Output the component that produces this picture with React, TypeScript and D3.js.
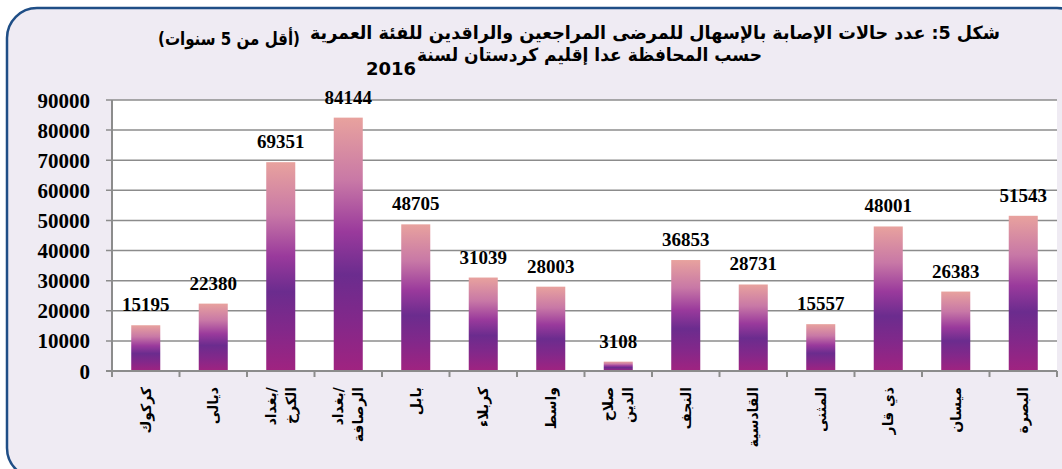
import React from "react";
import * as d3 from "d3";

const categories: string[] = [
  "كركوك",
  "ديالى",
  "بغداد/\nالكرخ",
  "بغداد/\nالرصافة",
  "بابل",
  "كربلاء",
  "واسط",
  "صلاح\nالدين",
  "النجف",
  "القادسية",
  "المثنى",
  "ذي قار",
  "ميسان",
  "البصرة",
];
const values: number[] = [15195, 22380, 69351, 84144, 48705, 31039, 28003, 3108, 36853, 28731, 15557, 48001, 26383, 51543];
const yTicks: number[] = [0, 10000, 20000, 30000, 40000, 50000, 60000, 70000, 80000, 90000];
const titleLine1Main = "شكل 5: عدد حالات الإصابة بالإسهال للمرضى المراجعين والراقدين للفئة العمرية";
const titleLine1Paren = "(أقل من 5 سنوات)";
const titleLine2 = "حسب المحافظة عدا إقليم كردستان لسنة";
const titleYear = "2016";

const W = 1062;
const H = 469;
const left = 112;
const right = 1057;
const top = 100;
const bottom = 371;

export default function App() {
  const x = d3
    .scaleBand<number>()
    .domain(categories.map((_, i) => i))
    .range([left, right])
    .paddingInner(0.57)
    .paddingOuter(0.285);
  const step = x.step();
  const y = d3.scaleLinear().domain([0, 90000]).range([bottom, top]);

  const serif = "'Liberation Serif', 'Times New Roman', serif";
  const arabic = "'DejaVu Sans', 'Noto Sans', sans-serif";
  const rtl = { direction: "rtl" as const, unicodeBidi: "embed" as const };

  return (
    <svg width={W} height={H} style={{ position: "absolute", left: 0, top: 0 }}>
      <defs>
        <linearGradient id="barGrad" x1="0" y1="0" x2="0" y2="1">
          <stop offset="0%" stopColor="#e8a29e" />
          <stop offset="25%" stopColor="#c878a6" />
          <stop offset="45%" stopColor="#9a3a9c" />
          <stop offset="62%" stopColor="#6b2c8e" />
          <stop offset="80%" stopColor="#82288a" />
          <stop offset="100%" stopColor="#a02380" />
        </linearGradient>
      </defs>
      <rect x={0} y={0} width={W} height={H} fill="#ffffff" />
      <rect x={7} y={8} width={1080} height={470} rx={30} ry={30} fill="#efebf3" stroke="#1f4e86" strokeWidth={2.5} />
      <rect x={left} y={top} width={right - left} height={bottom - top} fill="#ffffff" />

      {yTicks.map((t) => (
        <line key={"g" + t} x1={left - 6} x2={right} y1={y(t)} y2={y(t)} stroke="#8c8c8c" strokeWidth={1.5} />
      ))}
      {yTicks.map((t) => (
        <text
          key={"t" + t}
          x={90}
          y={y(t)}
          dy="0.36em"
          textAnchor="end"
          fontFamily={serif}
          fontWeight="bold"
          fontSize={21}
          fill="#000"
        >
          {t}
        </text>
      ))}

      {values.map((v, i) => (
        <rect
          key={"b" + i}
          x={x(i)!}
          y={y(v)}
          width={x.bandwidth()}
          height={bottom - y(v)}
          fill="url(#barGrad)"
        />
      ))}
      {values.map((v, i) => (
        <text
          key={"v" + i}
          x={x(i)! + x.bandwidth() / 2}
          y={y(v) - 14}
          textAnchor="middle"
          fontFamily={serif}
          fontWeight="bold"
          fontSize={19}
          fill="#000"
        >
          {v}
        </text>
      ))}

      <line x1={left} x2={left} y1={top} y2={bottom + 6} stroke="#8c8c8c" strokeWidth={2} />
      <line x1={left - 6} x2={right} y1={bottom} y2={bottom} stroke="#8c8c8c" strokeWidth={2} />
      {d3.range(categories.length + 1).map((k) => (
        <line
          key={"xt" + k}
          x1={left + k * step}
          x2={left + k * step}
          y1={bottom}
          y2={bottom + 6}
          stroke="#8c8c8c"
          strokeWidth={2}
        />
      ))}

      {categories.map((c, i) => {
        const lines = c.split("\n");
        const cx = x(i)! + x.bandwidth() / 2;
        return (
          <g key={"xl" + i}>
            {lines.map((ln, j) => {
              const off = (j - (lines.length - 1) / 2) * 20;
              return (
                <text
                  key={j}
                  transform={`translate(${cx + off},387) rotate(-90)`}
                  textAnchor="end"
                  dominantBaseline="central"
                  fontFamily={arabic}
                  fontWeight="bold"
                  fontSize={14}
                  fill="#000"
                >
                  {ln}
                </text>
              );
            })}
          </g>
        );
      })}

      <text x={1000} y={39} textAnchor="start" direction="rtl" style={rtl} fontFamily={arabic} fontWeight="bold" fontSize={18} textLength={690} lengthAdjust="spacingAndGlyphs" fill="#000">
        {titleLine1Main}
      </text>
      <text x={300} y={45} textAnchor="start" direction="rtl" style={rtl} fontFamily={arabic} fontWeight="bold" fontSize={18} textLength={142} lengthAdjust="spacingAndGlyphs" fill="#000">
        {titleLine1Paren}
      </text>
      <text x={762} y={61} textAnchor="start" direction="rtl" style={rtl} fontFamily={arabic} fontWeight="bold" fontSize={18} textLength={345} lengthAdjust="spacingAndGlyphs" fill="#000">
        {titleLine2}
      </text>
      <text x={391} y={75} textAnchor="middle" fontFamily={arabic} fontWeight="bold" fontSize={18} fill="#000">
        {titleYear}
      </text>
    </svg>
  );
}
